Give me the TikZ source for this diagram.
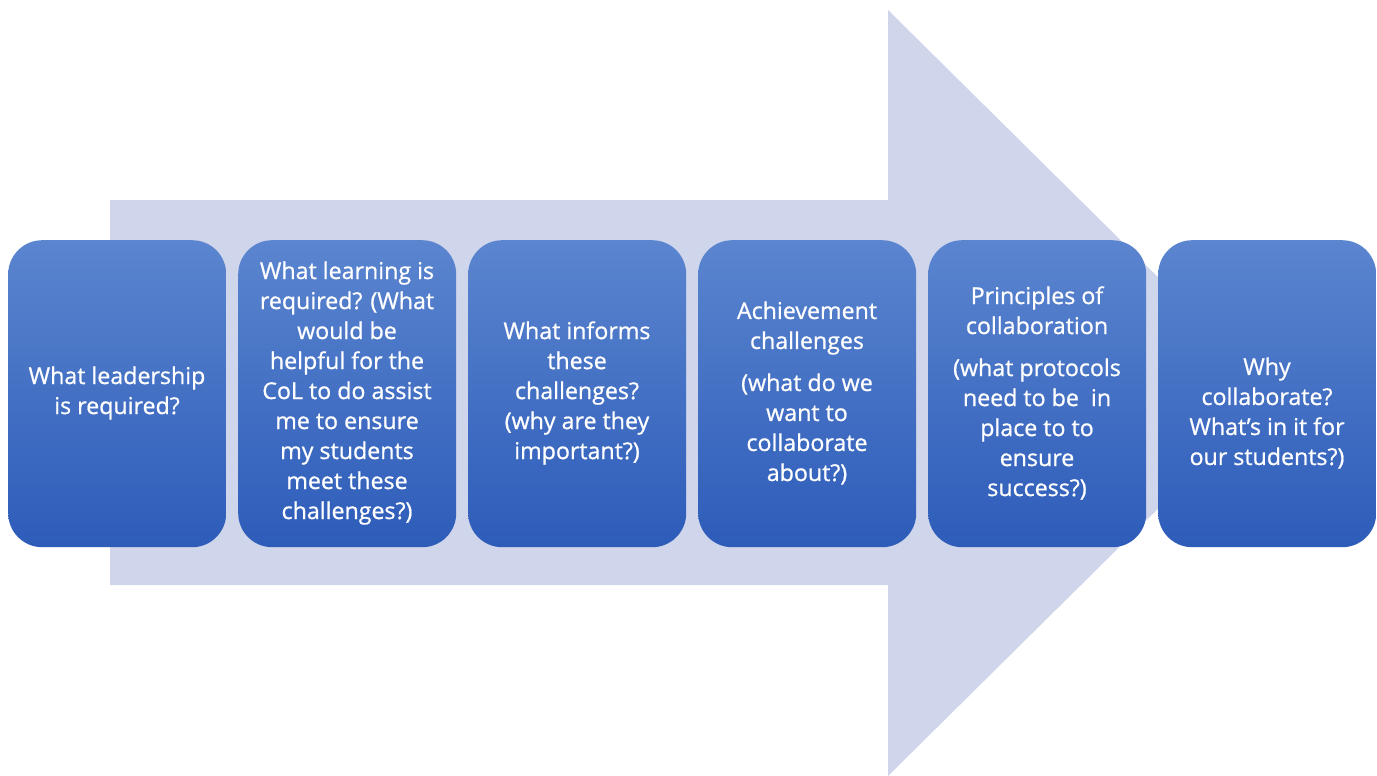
\documentclass[tikz,border=0pt]{standalone}
\usepackage{fontspec}
\setmainfont{Open Sans}
\newfontfamily\boxfont{Open Sans}[UprightFeatures={FakeBold=0.8}]
\definecolor{arrowfill}{HTML}{CFD5EA}
\definecolor{boxtop}{HTML}{5B85CF}
\definecolor{boxbot}{HTML}{2D5CB9}
\begin{document}
\begin{tikzpicture}[x=1pt,y=-1pt,
  stepbox/.style={draw=none,rounded corners=34pt,minimum width=218pt,minimum height=307pt,
    top color=boxtop,bottom color=boxbot,anchor=north west,inner sep=0pt},
  boxtext/.style={text=white,align=center,font=\boxfont\fontsize{23.2}{30}\selectfont,inner sep=0pt}]
\useasboundingbox (0,0) rectangle (1377,776);
\fill[arrowfill] (110,200) -- (888,200) -- (888,10) -- (1275,393) -- (888,776) -- (888,585) -- (110,585) -- cycle;
\node[stepbox] (b1) at (8,240) {};
\node[stepbox] (b2) at (238,240) {};
\node[stepbox] (b3) at (468,240) {};
\node[stepbox] (b4) at (698,240) {};
\node[stepbox] (b5) at (928,240) {};
\node[stepbox] (b6) at (1158,240) {};
\node[boxtext] (t1) at (117,393) {What leadership\\is required?};
\node[boxtext] (t2) at (347,393) {What learning is\\required? (What\\would be\\helpful for the\\CoL to do assist\\me to ensure\\my students\\meet these\\challenges?)};
\node[boxtext] (t3) at (577,393) {What informs\\these\\challenges?\\(why are they\\important?)};
\node[boxtext] (t4) at (807,393) {Achievement\\challenges\\[12pt](what do we\\want to\\collaborate\\about?)};
\node[boxtext] (t5) at (1037,393) {Principles of\\collaboration\\[12pt](what protocols\\need to be\ \ in\\place to to\\ensure\\success?)};
\node[boxtext] (t6) at (1267,413) {Why\\collaborate?\\What’s in it for\\our students?)};
\end{tikzpicture}
\end{document}
